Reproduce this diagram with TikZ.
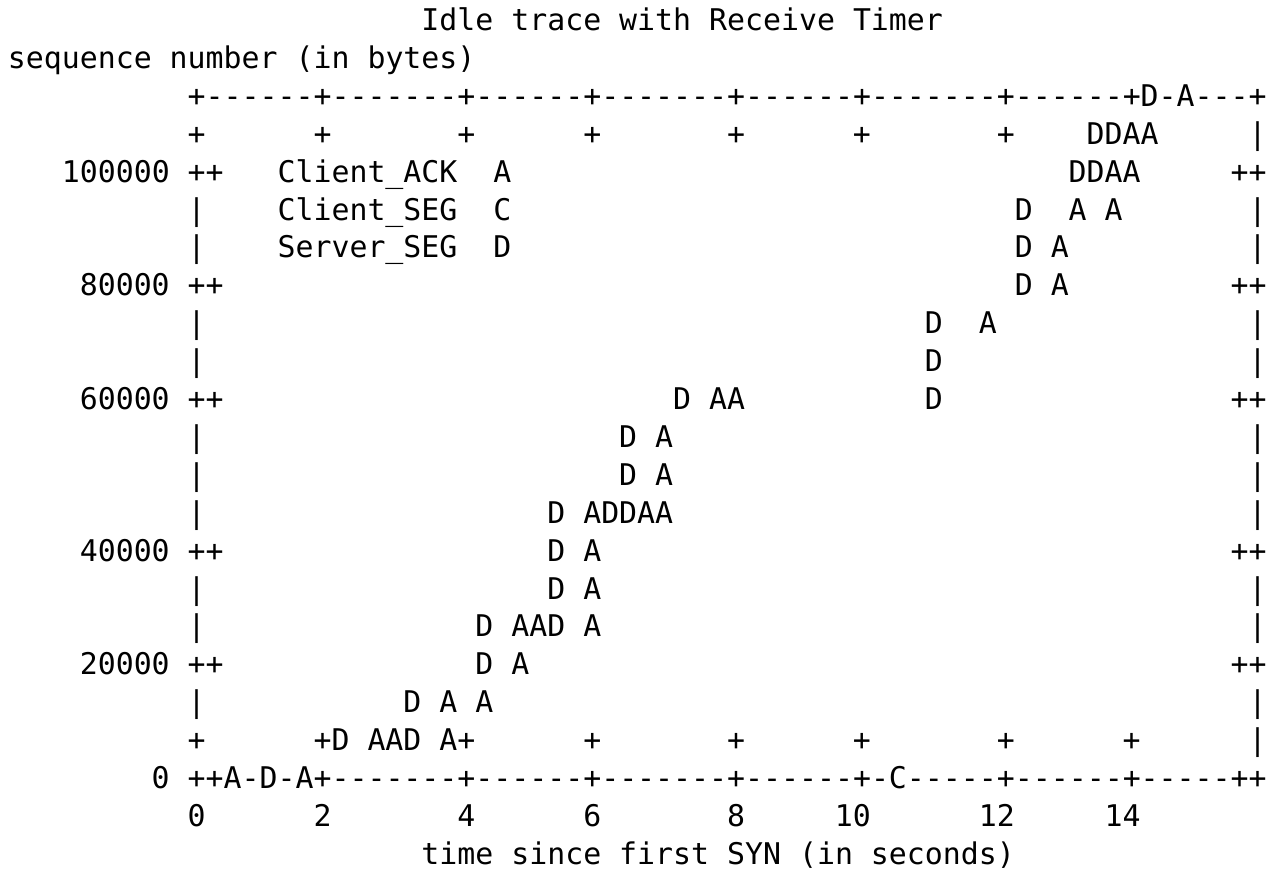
\documentclass[tikz,border=0pt]{standalone}
\usepackage{fontspec}
\newfontfamily\monofam{DejaVu Sans Mono}
\frenchspacing
% character grid: column pitch and row pitch (pt), origin of column 0
\newcommand\colw{17.98pt}
\newcommand\rowh{37.9pt}
\tikzset{
  ch/.style={font=\monofam\fontsize{29.87pt}{36pt}\selectfont,
             anchor=base west, inner sep=0pt, outer sep=0pt, text=black}
}
% \runat{name}{row}{column}{text}
\newcommand\runat[4]{\node[ch] (#1) at ({7.9pt+#3*\colw},{-30.5pt-#2*\rowh}) {#4};}
\begin{document}
\begin{tikzpicture}
\fill[white] (0,0) rectangle (1276pt,-871pt);
\path[use as bounding box] (0,0) rectangle (1276pt,-871pt);

% title and axis label
\runat{title}{0}{23}{Idle trace with Receive Timer}
\runat{ylabel}{1}{0}{sequence number (in bytes)}

% frame: top edge
\runat{top}{2}{10}{+------+-------+------+-------+------+-------+------+D-A---+}

% upper tick row
\foreach \c in {10,17,25,32,40,47,55} {\runat{tt\c}{3}{\c}{+}}
\runat{r3a}{3}{60}{DDAA}
\runat{r3r}{3}{69}{|}

% 100000
\runat{y100}{4}{3}{100000}
\runat{r4l}{4}{10}{++}
\runat{keyA}{4}{15}{Client\_ACK}
\runat{symA}{4}{27}{A}
\runat{r4a}{4}{59}{DDAA}
\runat{r4r}{4}{68}{++}

\runat{r5l}{5}{10}{|}
\runat{keyC}{5}{15}{Client\_SEG}
\runat{symC}{5}{27}{C}
\runat{r5a}{5}{56}{D}
\runat{r5b}{5}{59}{A}
\runat{r5c}{5}{61}{A}
\runat{r5r}{5}{69}{|}

\runat{r6l}{6}{10}{|}
\runat{keyD}{6}{15}{Server\_SEG}
\runat{symD}{6}{27}{D}
\runat{r6a}{6}{56}{D A}
\runat{r6r}{6}{69}{|}

% 80000
\runat{y80}{7}{4}{80000}
\runat{r7l}{7}{10}{++}
\runat{r7a}{7}{56}{D A}
\runat{r7r}{7}{68}{++}

\runat{r8l}{8}{10}{|}
\runat{r8a}{8}{51}{D}
\runat{r8b}{8}{54}{A}
\runat{r8r}{8}{69}{|}

\runat{r9l}{9}{10}{|}
\runat{r9a}{9}{51}{D}
\runat{r9r}{9}{69}{|}

% 60000
\runat{y60}{10}{4}{60000}
\runat{r10l}{10}{10}{++}
\runat{r10a}{10}{37}{D AA}
\runat{r10b}{10}{51}{D}
\runat{r10r}{10}{68}{++}

\runat{r11l}{11}{10}{|}
\runat{r11a}{11}{34}{D A}
\runat{r11r}{11}{69}{|}

\runat{r12l}{12}{10}{|}
\runat{r12a}{12}{34}{D A}
\runat{r12r}{12}{69}{|}

\runat{r13l}{13}{10}{|}
\runat{r13a}{13}{30}{D ADDAA}
\runat{r13r}{13}{69}{|}

% 40000
\runat{y40}{14}{4}{40000}
\runat{r14l}{14}{10}{++}
\runat{r14a}{14}{30}{D A}
\runat{r14r}{14}{68}{++}

\runat{r15l}{15}{10}{|}
\runat{r15a}{15}{30}{D A}
\runat{r15r}{15}{69}{|}

\runat{r16l}{16}{10}{|}
\runat{r16a}{16}{26}{D AAD A}
\runat{r16r}{16}{69}{|}

% 20000
\runat{y20}{17}{4}{20000}
\runat{r17l}{17}{10}{++}
\runat{r17a}{17}{26}{D A}
\runat{r17r}{17}{68}{++}

\runat{r18l}{18}{10}{|}
\runat{r18a}{18}{22}{D A A}
\runat{r18r}{18}{69}{|}

% lower tick row
\runat{bt10}{19}{10}{+}
\runat{r19a}{19}{17}{+D AAD A+}
\foreach \c in {32,40,47,55,62} {\runat{bt\c}{19}{\c}{+}}
\runat{r19r}{19}{69}{|}

% frame: bottom edge with the 0 label
\runat{y0}{20}{8}{0}
\runat{bottom}{20}{10}{++A-D-A+-------+------+-------+------+-C-----+------+-----++}

% x tick labels
\runat{x0}{21}{10}{0}
\runat{x2}{21}{17}{2}
\runat{x4}{21}{25}{4}
\runat{x6}{21}{32}{6}
\runat{x8}{21}{40}{8}
\runat{x10}{21}{46}{10}
\runat{x12}{21}{54}{12}
\runat{x14}{21}{61}{14}

\runat{xlabel}{22}{23}{time since first SYN (in seconds)}
\end{tikzpicture}
\end{document}
